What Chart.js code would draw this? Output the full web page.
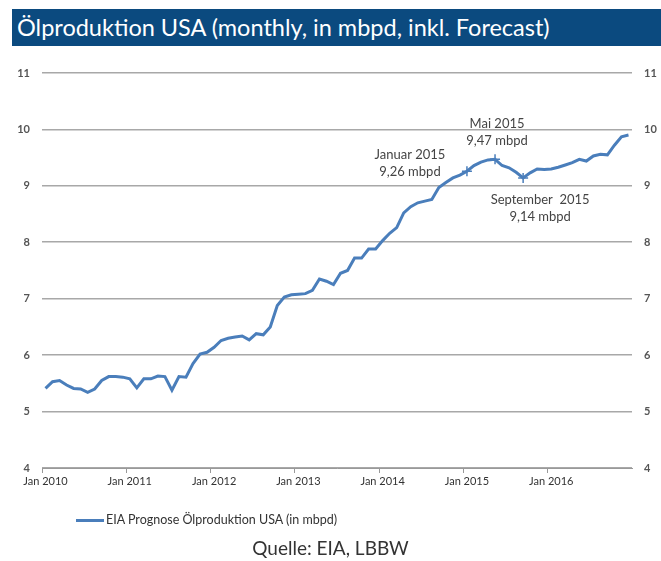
<!DOCTYPE html>
<html lang="de">
<head>
<meta charset="UTF-8">
<title>Ölproduktion USA</title>
<script src="https://cdn.jsdelivr.net/npm/chart.js@4.4.0/dist/chart.umd.min.js"></script>
<style>
  html, body { margin: 0; padding: 0; background: #fff; }
  body { width: 661px; height: 561px; position: relative; overflow: hidden; font-family: Lato, "Open Sans", sans-serif; }
  #titleBar { position: absolute; left: 12px; top: 9px; width: 649px; height: 37px; background: #0b4a7f; color: #fff;
              font-size: 23.5px; line-height: 37px; padding-left: 5px; box-sizing: border-box; white-space: nowrap; }
  #chartBox { position: absolute; left: 0; top: 0; width: 661px; height: 561px; }
  #legend { position: absolute; left: 76px; top: 512px; font-size: 12.5px; color: #333; white-space: nowrap; }
  #legend .swatch { display: inline-block; width: 28px; height: 3px; background: #4a7ebb; vertical-align: middle; margin-right: 2px; }
  #source { position: absolute; left: 0; width: 661px; top: 536px; text-align: center; font-size: 19px; color: #333; }
</style>
</head>
<body>
<div id="chartBox"><canvas id="oilChart" width="661" height="561"></canvas></div>
<div id="titleBar">Ölproduktion USA (monthly, in mbpd, inkl. Forecast)</div>
<div id="legend"><span class="swatch"></span>EIA Prognose Ölproduktion USA (in mbpd)</div>
<div id="source">Quelle: EIA, LBBW</div>

<script>
// Monthly labels Jan 2010 .. Dec 2016
const years = [2010, 2011, 2012, 2013, 2014, 2015, 2016];
const monthNames = ['Jan', 'Feb', 'Mar', 'Apr', 'May', 'Jun', 'Jul', 'Aug', 'Sep', 'Oct', 'Nov', 'Dec'];
const months = [];
years.forEach(y => monthNames.forEach(m => months.push(m + ' ' + y)));

// EIA production incl. forecast, mbpd
const production = [
  5.41, 5.53, 5.55, 5.47, 5.41, 5.40, 5.34, 5.40, 5.55, 5.62, 5.62, 5.61,
  5.58, 5.42, 5.58, 5.58, 5.63, 5.62, 5.38, 5.62, 5.61, 5.85, 6.02, 6.05,
  6.14, 6.26, 6.30, 6.32, 6.34, 6.27, 6.38, 6.36, 6.50, 6.88, 7.03, 7.07,
  7.08, 7.09, 7.15, 7.35, 7.31, 7.25, 7.45, 7.50, 7.72, 7.72, 7.88, 7.88,
  8.03, 8.16, 8.26, 8.52, 8.63, 8.70, 8.73, 8.76, 8.97, 9.06, 9.14, 9.19,
  9.26, 9.36, 9.42, 9.46, 9.47, 9.36, 9.32, 9.24, 9.14, 9.23, 9.30, 9.29,
  9.30, 9.33, 9.37, 9.41, 9.47, 9.44, 9.53, 9.56, 9.55, 9.72, 9.87, 9.90
];

// annotated points
const noteMonths = ['Jan 2015', 'May 2015', 'Sep 2015'];
const noteTitles = ['Januar 2015', 'Mai 2015', 'September  2015'];
const noteValues = ['9,26 mbpd', '9,47 mbpd', '9,14 mbpd'];
// label offsets from the point (px)
const noteOffsets = [[-57, -16], [2, -36], [17, 22]];

const yTicks = [4, 5, 6, 7, 8, 9, 10, 11];

const noteIdx = noteMonths.map(m => months.indexOf(m));
const lineBlue = '#4a7ebb';

const notesPlugin = {
  id: 'notes',
  afterDatasetsDraw(chart) {
    const ctx = chart.ctx;
    const meta = chart.getDatasetMeta(0);
    ctx.save();
    ctx.font = '13px Lato, "Open Sans", sans-serif';
    ctx.fillStyle = '#444';
    ctx.textAlign = 'center';
    ctx.textBaseline = 'middle';
    noteIdx.forEach((idx, i) => {
      const pt = meta.data[idx];
      const x = pt.x + noteOffsets[i][0];
      const y = pt.y + noteOffsets[i][1];
      ctx.fillText(noteTitles[i], x, y);
      ctx.fillText(noteValues[i], x, y + 17);
    });
    ctx.restore();
  }
};

const tickFont = { family: 'Lato, "Open Sans", sans-serif', size: 11, weight: 'bold' };

new Chart(document.getElementById('oilChart'), {
  type: 'line',
  data: {
    labels: months,
    datasets: [{
      label: 'EIA Prognose Ölproduktion USA (in mbpd)',
      data: production,
      borderColor: lineBlue,
      backgroundColor: lineBlue,
      borderWidth: 3,
      tension: 0,
      pointStyle: 'cross',
      pointRadius: ctx => noteIdx.includes(ctx.dataIndex) ? 5 : 0,
      pointBorderColor: lineBlue,
      pointBorderWidth: 1.5,
      pointHoverRadius: 0
    }]
  },
  options: {
    responsive: false,
    animation: false,
    events: [],
    layout: { padding: { left: 0, right: 0, top: 73, bottom: 68 } },
    plugins: { legend: { display: false }, tooltip: { enabled: false }, title: { display: false } },
    scales: {
      x: {
        type: 'category',
        offset: true,
        grid: {
          offset: true,
          drawOnChartArea: false,
          drawTicks: true,
          tickLength: 5,
          color: ctx => (ctx.index % 12 === 0 ? '#999' : 'rgba(0,0,0,0)')
        },
        border: { display: true, color: '#999', width: 1 },
        ticks: {
          autoSkip: false,
          maxRotation: 0,
          minRotation: 0,
          padding: 2,
          color: '#333',
          font: { family: 'Lato, "Open Sans", sans-serif', size: 11 },
          callback: function (val, i) { return i % 12 === 0 ? months[i] : ''; }
        },
        afterFit: s => { s.height = 25; }
      },
      y: {
        position: 'left',
        min: 4, max: 11,
        afterBuildTicks: s => { s.ticks = yTicks.map(v => ({ value: v })); },
        grid: { color: '#a8a8a8', lineWidth: 1.6, drawTicks: false },
        border: { display: false },
        ticks: { padding: 12, color: '#555', font: tickFont },
        afterFit: s => { s.width = 42; }
      },
      y2: {
        position: 'right',
        min: 4, max: 11,
        afterBuildTicks: s => { s.ticks = yTicks.map(v => ({ value: v })); },
        grid: { drawOnChartArea: false, drawTicks: false },
        border: { display: false },
        ticks: { padding: 12, color: '#555', font: tickFont },
        afterFit: s => { s.width = 29; }
      }
    }
  },
  plugins: [notesPlugin]
});
</script>
</body>
</html>
